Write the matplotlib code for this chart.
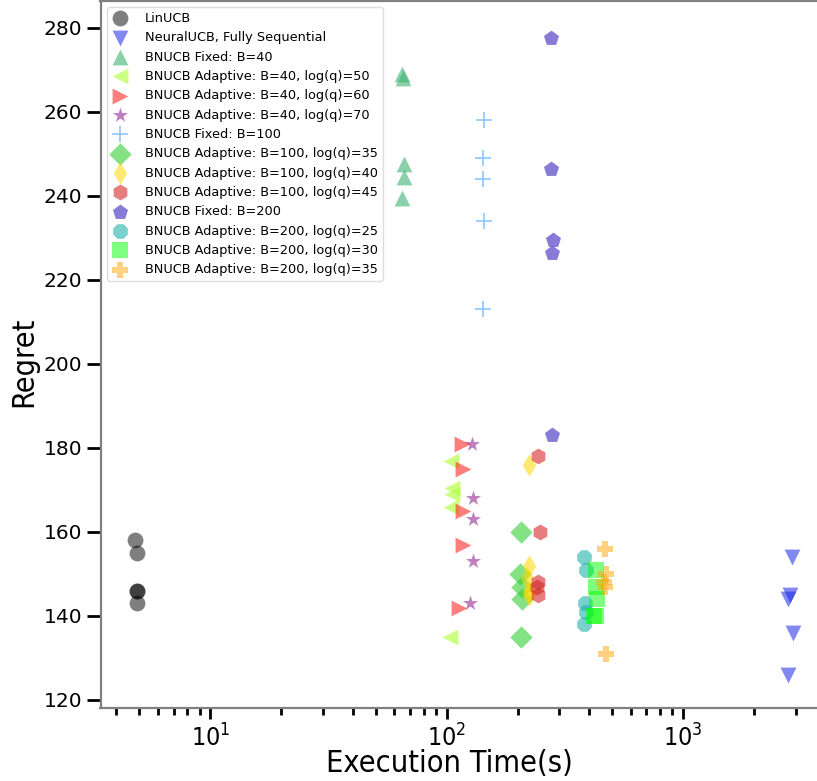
import numpy as np
import matplotlib
matplotlib.use("Agg")
import matplotlib.pyplot as plt

# Runs of each method: execution time (s) and regret
labels = [
    "LinUCB",
    "NeuralUCB, Fully Sequential",
    "BNUCB Fixed: B=40",
    "BNUCB Adaptive: B=40, log(q)=50",
    "BNUCB Adaptive: B=40, log(q)=60",
    "BNUCB Adaptive: B=40, log(q)=70",
    "BNUCB Fixed: B=100",
    "BNUCB Adaptive: B=100, log(q)=35",
    "BNUCB Adaptive: B=100, log(q)=40",
    "BNUCB Adaptive: B=100, log(q)=45",
    "BNUCB Fixed: B=200",
    "BNUCB Adaptive: B=200, log(q)=25",
    "BNUCB Adaptive: B=200, log(q)=30",
    "BNUCB Adaptive: B=200, log(q)=35",
]

times = [
    [4.8, 4.9, 4.9, 4.9, 4.9],
    [2890, 2835, 2780, 2920, 2780],
    [65, 65.5, 66, 66, 64.5],
    [104, 105, 105, 104, 103],
    [116, 117, 117.5, 117, 113],
    [128.5, 129.5, 129, 129.5, 125],
    [144, 142, 142, 144, 143],
    [207, 205, 208, 208, 206],
    [222, 224, 219, 222, 222],
    [243, 247, 243, 240, 243],
    [277, 276, 281, 280, 279],
    [380, 390, 383, 390, 380],
    [428, 430, 432, 430, 420],
    [468, 473, 465, 467, 473],
]

regrets = [
    [158, 155, 146, 146, 143],
    [154, 145, 144, 136, 126],
    [269, 268, 247.5, 244.5, 239.5],
    [177, 170.5, 169, 166, 135],
    [181, 175, 165, 157, 142],
    [181, 168, 163, 153, 143],
    [258, 249, 244, 234, 213],
    [160, 150, 147, 144, 135],
    [176, 152, 149, 146, 145],
    [178, 160, 148, 147, 145],
    [277.5, 246.5, 229.5, 226.5, 183],
    [154, 151, 143, 141, 138],
    [151, 147, 144, 140, 140],
    [156, 150, 148, 147, 131],
]

markers = ["o", "v", "^", "<", ">", "*", "+", "D", "d", "h", "p", "8", "s", "P"]
colors = ["black", (0.1, 0.15, 0.9), "mediumseagreen", "greenyellow", "red", "purple",
          "dodgerblue", "limegreen", "gold", "tab:red", "slateblue", "lightseagreen",
          "lime", "orange"]
alphas = [0.5, 0.55, 0.6, 0.6, 0.5, 0.5, 0.5, 0.6, 0.55, 0.6, 0.8, 0.6, 0.5, 0.5]

W, H = 817, 781
AX_L, AX_R, AX_T, AX_B = 100.5, 830, 1, 707.5  # axes box in pixels


def plot_runs(ax):
    """ One scatter per method """
    for lab, t, r, m, c, a in zip(labels, times, regrets, markers, colors, alphas):
        lw = 1.2 if m == "+" else 0
        ax.scatter(t, r, s=130, marker=m, color=c, alpha=a, linewidths=lw, label=lab)


def style_axes(ax):
    """ Log x axis, spines and ticks like the original """
    ax.set_xscale("log")
    ax.set_xlim(3.43, 10 ** (1 + (AX_R - 210) / 236.5))
    ax.set_ylim(118.2, 286.4)
    ax.set_yticks(np.arange(120, 281, 20))
    for sp in ax.spines.values():
        sp.set_color("#808080")
        sp.set_linewidth(1.6)
    ax.tick_params(axis="y", length=10, width=2, labelsize=14.5, color="black", pad=3)
    ax.tick_params(axis="x", which="major", length=8, width=2, labelsize=18, color="black", pad=4)
    ax.tick_params(axis="x", which="minor", length=5, width=2, color="black")
    for t in ax.get_xticklabels():
        t.set_fontstretch("condensed")
    ax.set_xlabel("Execution Time(s)", fontsize=22, fontstretch="condensed", labelpad=-2)
    ax.set_ylabel("Regret", fontsize=22, fontstretch="condensed", labelpad=4)
    # labels sit a bit off the axes centre in the original
    ax.xaxis.label.set_x((449 - AX_L) / (AX_R - AX_L))
    ax.yaxis.label.set_y((AX_B - 362) / (AX_B - AX_T))


def main():
    fig = plt.figure(figsize=(W / 100, H / 100), dpi=100)
    ax = fig.add_axes([AX_L / W, (H - AX_B) / H, (AX_R - AX_L) / W, (AX_B - AX_T) / H])
    plot_runs(ax)
    style_axes(ax)
    ax.legend(loc="upper left", bbox_to_anchor=(0.009, 0.991), borderaxespad=0,
              fontsize=9.3, labelspacing=0.49, handlelength=1.3, handletextpad=1.3,
              borderpad=0.35, framealpha=1, edgecolor="#dddddd")
    fig.savefig("out.png", dpi=100)


if __name__ == "__main__":
    main()
